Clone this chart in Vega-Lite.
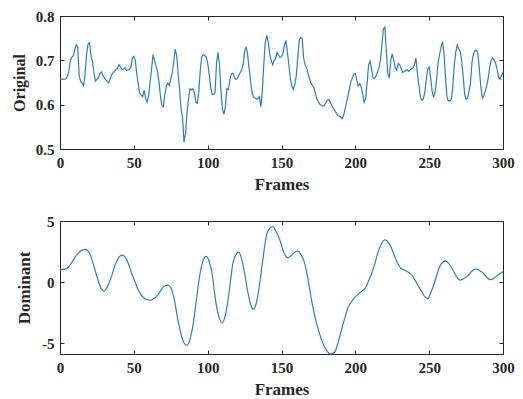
{
  "$schema": "https://vega.github.io/schema/vega-lite/v6.json",
  "background": "white",
  "padding": {"left": 10, "top": 8, "right": 5, "bottom": 0},
  "spacing": 20,
  "config": {
    "font": "Liberation Serif",
    "view": {"stroke": "#262626", "strokeWidth": 1},
    "axis": {
      "labelFont": "Liberation Serif", "labelFontWeight": "bold", "labelFontSize": 15, "labelColor": "#262626",
      "titleFont": "Liberation Serif", "titleFontWeight": "bold", "titleFontSize": 17, "titleColor": "#262626",
      "domainColor": "#262626", "tickColor": "#262626", "tickSize": -4, "labelPadding": 10,
      "grid": false, "labelFlush": false, "labelOverlap": false
    }
  },
  "vconcat": [
    {
      "width": 443, "height": 133,
      "data": {"values": [
        {"frame":0,"value":0.657},{"frame":4,"value":0.658},{"frame":5,"value":0.664},{"frame":6,"value":0.675},{"frame":7,"value":0.700},{"frame":8,"value":0.707},{"frame":9,"value":0.710},{"frame":10,"value":0.724},{"frame":11,"value":0.735},{"frame":12,"value":0.730},{"frame":13,"value":0.665},{"frame":14,"value":0.653},{"frame":15,"value":0.648},{"frame":16,"value":0.643},{"frame":17,"value":0.670},{"frame":18,"value":0.715},{"frame":19,"value":0.737},{"frame":20,"value":0.740},{"frame":21,"value":0.709},{"frame":22,"value":0.698},{"frame":23,"value":0.672},{"frame":24,"value":0.653},{"frame":26,"value":0.661},{"frame":27,"value":0.670},{"frame":28,"value":0.674},{"frame":29,"value":0.666},{"frame":31,"value":0.656},{"frame":33,"value":0.649},{"frame":35,"value":0.668},{"frame":37,"value":0.676},{"frame":39,"value":0.683},{"frame":40,"value":0.690},{"frame":42,"value":0.679},{"frame":44,"value":0.683},{"frame":45,"value":0.677},{"frame":47,"value":0.680},{"frame":48,"value":0.684},{"frame":49,"value":0.705},{"frame":50,"value":0.709},
        {"frame":51,"value":0.700},{"frame":52,"value":0.670},{"frame":53,"value":0.645},{"frame":54,"value":0.625},{"frame":56,"value":0.618},{"frame":57,"value":0.633},{"frame":58,"value":0.614},{"frame":59,"value":0.606},{"frame":60,"value":0.620},{"frame":61,"value":0.650},{"frame":62,"value":0.680},{"frame":63,"value":0.713},{"frame":64,"value":0.700},{"frame":65,"value":0.687},{"frame":66,"value":0.675},{"frame":67,"value":0.652},{"frame":68,"value":0.620},{"frame":69,"value":0.598},{"frame":70,"value":0.595},{"frame":71,"value":0.623},{"frame":72,"value":0.642},{"frame":73,"value":0.649},{"frame":74,"value":0.643},{"frame":75,"value":0.657},{"frame":76,"value":0.672},{"frame":77,"value":0.695},{"frame":78,"value":0.725},{"frame":79,"value":0.712},{"frame":80,"value":0.670},{"frame":81,"value":0.634},{"frame":82,"value":0.590},{"frame":83,"value":0.570},{"frame":84,"value":0.515},{"frame":85,"value":0.535},{"frame":86,"value":0.580},{"frame":87,"value":0.612},{"frame":88,"value":0.636},{"frame":89,"value":0.633},{"frame":90,"value":0.636},{"frame":91,"value":0.628},{"frame":92,"value":0.605},{"frame":93,"value":0.603},{"frame":94,"value":0.630},{"frame":95,"value":0.678},{"frame":96,"value":0.708},{"frame":97,"value":0.713},{"frame":98,"value":0.711},{"frame":99,"value":0.708},{"frame":100,"value":0.694},{"frame":101,"value":0.670},
        {"frame":102,"value":0.640},{"frame":103,"value":0.623},{"frame":104,"value":0.623},{"frame":105,"value":0.627},{"frame":106,"value":0.695},{"frame":107,"value":0.718},{"frame":108,"value":0.690},{"frame":109,"value":0.630},{"frame":110,"value":0.590},{"frame":111,"value":0.578},{"frame":112,"value":0.595},{"frame":113,"value":0.636},{"frame":114,"value":0.634},{"frame":115,"value":0.655},{"frame":116,"value":0.670},{"frame":117,"value":0.671},{"frame":118,"value":0.663},{"frame":119,"value":0.657},{"frame":120,"value":0.659},{"frame":122,"value":0.672},{"frame":123,"value":0.678},{"frame":124,"value":0.690},{"frame":125,"value":0.720},{"frame":126,"value":0.731},{"frame":127,"value":0.715},{"frame":128,"value":0.683},{"frame":129,"value":0.655},{"frame":130,"value":0.628},{"frame":131,"value":0.617},{"frame":133,"value":0.613},{"frame":134,"value":0.613},{"frame":135,"value":0.618},{"frame":136,"value":0.595},{"frame":137,"value":0.630},{"frame":138,"value":0.690},{"frame":139,"value":0.740},{"frame":140,"value":0.756},{"frame":141,"value":0.742},{"frame":142,"value":0.715},{"frame":143,"value":0.700},{"frame":144,"value":0.690},{"frame":145,"value":0.700},{"frame":146,"value":0.703},{"frame":147,"value":0.718},{"frame":148,"value":0.712},{"frame":149,"value":0.706},{"frame":150,"value":0.709},{"frame":151,"value":0.715},
        {"frame":152,"value":0.735},{"frame":153,"value":0.745},{"frame":154,"value":0.718},{"frame":155,"value":0.690},{"frame":156,"value":0.658},{"frame":157,"value":0.642},{"frame":158,"value":0.634},{"frame":159,"value":0.645},{"frame":160,"value":0.665},{"frame":161,"value":0.705},{"frame":162,"value":0.745},{"frame":163,"value":0.752},{"frame":164,"value":0.749},{"frame":165,"value":0.705},{"frame":166,"value":0.690},{"frame":167,"value":0.683},{"frame":168,"value":0.670},{"frame":169,"value":0.658},{"frame":170,"value":0.648},{"frame":172,"value":0.638},{"frame":173,"value":0.625},{"frame":174,"value":0.612},{"frame":176,"value":0.601},{"frame":178,"value":0.597},{"frame":179,"value":0.598},{"frame":181,"value":0.610},{"frame":182,"value":0.612},{"frame":183,"value":0.606},{"frame":184,"value":0.598},{"frame":186,"value":0.587},{"frame":188,"value":0.576},{"frame":190,"value":0.572},{"frame":191,"value":0.568},{"frame":192,"value":0.575},{"frame":193,"value":0.589},{"frame":195,"value":0.620},{"frame":197,"value":0.652},{"frame":198,"value":0.660},{"frame":199,"value":0.669},{"frame":200,"value":0.670},
        {"frame":201,"value":0.655},{"frame":202,"value":0.642},{"frame":203,"value":0.647},{"frame":204,"value":0.640},{"frame":205,"value":0.622},{"frame":206,"value":0.606},{"frame":207,"value":0.615},{"frame":208,"value":0.650},{"frame":209,"value":0.690},{"frame":210,"value":0.698},{"frame":211,"value":0.679},{"frame":212,"value":0.660},{"frame":213,"value":0.659},{"frame":214,"value":0.665},{"frame":215,"value":0.673},{"frame":216,"value":0.684},{"frame":217,"value":0.700},{"frame":218,"value":0.735},{"frame":219,"value":0.770},{"frame":220,"value":0.775},{"frame":221,"value":0.720},{"frame":222,"value":0.670},{"frame":223,"value":0.660},{"frame":224,"value":0.700},{"frame":225,"value":0.715},{"frame":226,"value":0.700},{"frame":227,"value":0.685},{"frame":228,"value":0.678},{"frame":229,"value":0.693},{"frame":230,"value":0.690},{"frame":231,"value":0.683},{"frame":232,"value":0.673},{"frame":233,"value":0.675},{"frame":235,"value":0.679},{"frame":236,"value":0.675},{"frame":237,"value":0.678},{"frame":239,"value":0.683},{"frame":240,"value":0.690},{"frame":241,"value":0.705},{"frame":242,"value":0.672},{"frame":243,"value":0.645},{"frame":244,"value":0.618},{"frame":245,"value":0.610},{"frame":246,"value":0.612},{"frame":247,"value":0.627},{"frame":248,"value":0.655},{"frame":249,"value":0.680},{"frame":250,"value":0.685},
        {"frame":251,"value":0.660},{"frame":252,"value":0.630},{"frame":253,"value":0.616},{"frame":254,"value":0.628},{"frame":255,"value":0.655},{"frame":256,"value":0.694},{"frame":257,"value":0.712},{"frame":258,"value":0.730},{"frame":259,"value":0.742},{"frame":260,"value":0.718},{"frame":261,"value":0.666},{"frame":262,"value":0.620},{"frame":263,"value":0.608},{"frame":264,"value":0.609},{"frame":265,"value":0.612},{"frame":266,"value":0.640},{"frame":267,"value":0.690},{"frame":268,"value":0.718},{"frame":269,"value":0.735},{"frame":270,"value":0.725},{"frame":271,"value":0.721},{"frame":272,"value":0.700},{"frame":273,"value":0.665},{"frame":274,"value":0.625},{"frame":275,"value":0.612},{"frame":276,"value":0.614},{"frame":277,"value":0.630},{"frame":278,"value":0.650},{"frame":279,"value":0.695},{"frame":280,"value":0.715},{"frame":281,"value":0.721},{"frame":282,"value":0.723},{"frame":283,"value":0.715},{"frame":284,"value":0.680},{"frame":285,"value":0.640},{"frame":286,"value":0.615},{"frame":287,"value":0.620},{"frame":289,"value":0.643},{"frame":290,"value":0.660},{"frame":291,"value":0.684},{"frame":292,"value":0.700},{"frame":293,"value":0.705},{"frame":294,"value":0.701},{"frame":295,"value":0.693},{"frame":296,"value":0.680},{"frame":297,"value":0.662},{"frame":298,"value":0.657},{"frame":299,"value":0.666},{"frame":300,"value":0.673}
      ]},
      "layer": [
        {
          "mark": {"type": "line", "color": "#2a7fba", "strokeWidth": 1.2},
          "encoding": {
            "x": {"field": "frame", "type": "quantitative", "scale": {"domain": [0, 300], "nice": false},
                  "axis": {"title": "Frames", "values": [0, 50, 100, 150, 200, 250, 300], "titlePadding": 6}},
            "y": {"field": "value", "type": "quantitative", "scale": {"domain": [0.5, 0.8], "nice": false, "zero": false},
                  "axis": {"title": "Original", "values": [0.5, 0.6, 0.7, 0.8], "format": ".1f", "titleFontSize": 16, "titlePadding": 8}}
          }
        },
        {
          "mark": {"type": "line", "opacity": 0},
          "encoding": {
            "x": {"field": "frame", "type": "quantitative", "scale": {"domain": [0, 300], "nice": false},
                  "axis": {"orient": "top", "labels": false, "title": null, "domain": false, "values": [0, 50, 100, 150, 200, 250, 300]}},
            "y": {"field": "value", "type": "quantitative", "scale": {"domain": [0.5, 0.8], "nice": false, "zero": false},
                  "axis": {"orient": "right", "labels": false, "title": null, "domain": false, "values": [0.5, 0.6, 0.7, 0.8]}}
          }
        }
      ],
      "resolve": {"axis": {"x": "independent", "y": "independent"}}
    },
    {
      "width": 443, "height": 133,
      "data": {"values": [
        {"frame":0,"value":1.0},{"frame":3,"value":1.05},{"frame":5,"value":1.15},{"frame":8,"value":1.6},{"frame":10,"value":2.0},{"frame":12,"value":2.3},{"frame":14,"value":2.55},{"frame":17,"value":2.68},{"frame":20,"value":2.35},{"frame":22,"value":1.7},{"frame":25,"value":0.45},{"frame":27,"value":-0.3},{"frame":30,"value":-0.75},{"frame":32,"value":-0.4},{"frame":35,"value":0.5},{"frame":37,"value":1.3},{"frame":39,"value":1.85},{"frame":42,"value":2.2},{"frame":44,"value":2.05},{"frame":46,"value":1.6},{"frame":48,"value":0.9},{"frame":51,"value":-0.05},{"frame":53,"value":-0.65},{"frame":55,"value":-1.05},{"frame":58,"value":-1.4},{"frame":61,"value":-1.5},{"frame":63,"value":-1.4},{"frame":66,"value":-1.1},{"frame":68,"value":-0.75},{"frame":70,"value":-0.4},{"frame":73,"value":-0.25},{"frame":75,"value":-0.45},{"frame":77,"value":-1.2},{"frame":80,"value":-3.2},{"frame":82,"value":-4.3},{"frame":84,"value":-5.0},{"frame":86,"value":-5.2},{"frame":88,"value":-4.7},{"frame":90,"value":-3.6},{"frame":92,"value":-1.8},{"frame":95,"value":0.8},{"frame":97,"value":1.8},{"frame":99,"value":2.1},{"frame":101,"value":1.7},{"frame":103,"value":0.7},{"frame":105,"value":-1.2},{"frame":106,"value":-2.0},{"frame":108,"value":-3.0},{"frame":110,"value":-3.35},{"frame":112,"value":-2.7},{"frame":114,"value":-1.3},{"frame":116,"value":0.6},{"frame":117,"value":1.5},{"frame":119,"value":2.2},{"frame":121,"value":2.45},{"frame":123,"value":1.9},{"frame":125,"value":0.7},{"frame":127,"value":-0.7},{"frame":129,"value":-1.8},{"frame":131,"value":-2.25},{"frame":133,"value":-1.7},{"frame":135,"value":-0.3},{"frame":137,"value":1.5},{"frame":140,"value":3.9},{"frame":142,"value":4.4},{"frame":144,"value":4.55},{"frame":146,"value":4.2},{"frame":149,"value":3.4},{"frame":151,"value":2.6},{"frame":154,"value":2.0},{"frame":156,"value":2.1},{"frame":158,"value":2.35},{"frame":161,"value":2.55},{"frame":163,"value":2.3},{"frame":166,"value":1.4},{"frame":168,"value":0.2},{"frame":171,"value":-1.9},{"frame":174,"value":-3.5},{"frame":177,"value":-4.7},{"frame":180,"value":-5.5},{"frame":183,"value":-5.9},{"frame":186,"value":-5.75},{"frame":188,"value":-5.1},{"frame":190,"value":-4.2},{"frame":193,"value":-2.9},{"frame":195,"value":-2.1},{"frame":198,"value":-1.5},{"frame":201,"value":-1.1},{"frame":204,"value":-0.8},{"frame":207,"value":-0.45},{"frame":210,"value":0.4},{"frame":213,"value":1.4},{"frame":215,"value":2.3},{"frame":217,"value":2.95},{"frame":220,"value":3.45},{"frame":222,"value":3.3},{"frame":224,"value":2.9},{"frame":226,"value":2.3},{"frame":229,"value":1.45},{"frame":231,"value":1.1},{"frame":234,"value":0.95},{"frame":237,"value":0.7},{"frame":239,"value":0.45},{"frame":242,"value":-0.2},{"frame":245,"value":-0.8},{"frame":247,"value":-1.2},{"frame":249,"value":-1.37},{"frame":251,"value":-0.9},{"frame":254,"value":0.1},{"frame":256,"value":0.9},{"frame":258,"value":1.45},{"frame":261,"value":1.73},{"frame":263,"value":1.55},{"frame":265,"value":1.2},{"frame":268,"value":0.55},{"frame":271,"value":0.15},{"frame":273,"value":0.25},{"frame":276,"value":0.5},{"frame":279,"value":0.9},{"frame":282,"value":1.05},{"frame":284,"value":0.95},{"frame":286,"value":0.8},{"frame":289,"value":0.4},{"frame":291,"value":0.2},{"frame":293,"value":0.25},{"frame":295,"value":0.42},{"frame":298,"value":0.7},{"frame":300,"value":0.85}
      ]},
      "layer": [
        {
          "mark": {"type": "line", "color": "#2a7fba", "strokeWidth": 1.2, "interpolate": "monotone"},
          "encoding": {
            "x": {"field": "frame", "type": "quantitative", "scale": {"domain": [0, 300], "nice": false},
                  "axis": {"title": "Frames", "values": [0, 50, 100, 150, 200, 250, 300], "titlePadding": 6}},
            "y": {"field": "value", "type": "quantitative", "scale": {"domain": [-5.9, 5], "nice": false, "zero": false},
                  "axis": {"title": "Dominant", "values": [-5, 0, 5], "labelExpr": "'' + datum.value", "titlePadding": 8}}
          }
        },
        {
          "mark": {"type": "line", "opacity": 0},
          "encoding": {
            "x": {"field": "frame", "type": "quantitative", "scale": {"domain": [0, 300], "nice": false},
                  "axis": {"orient": "top", "labels": false, "title": null, "domain": false, "values": [0, 50, 100, 150, 200, 250, 300]}},
            "y": {"field": "value", "type": "quantitative", "scale": {"domain": [-5.9, 5], "nice": false, "zero": false},
                  "axis": {"orient": "right", "labels": false, "title": null, "domain": false, "values": [-5, 0, 5]}}
          }
        }
      ],
      "resolve": {"axis": {"x": "independent", "y": "independent"}}
    }
  ]
}
